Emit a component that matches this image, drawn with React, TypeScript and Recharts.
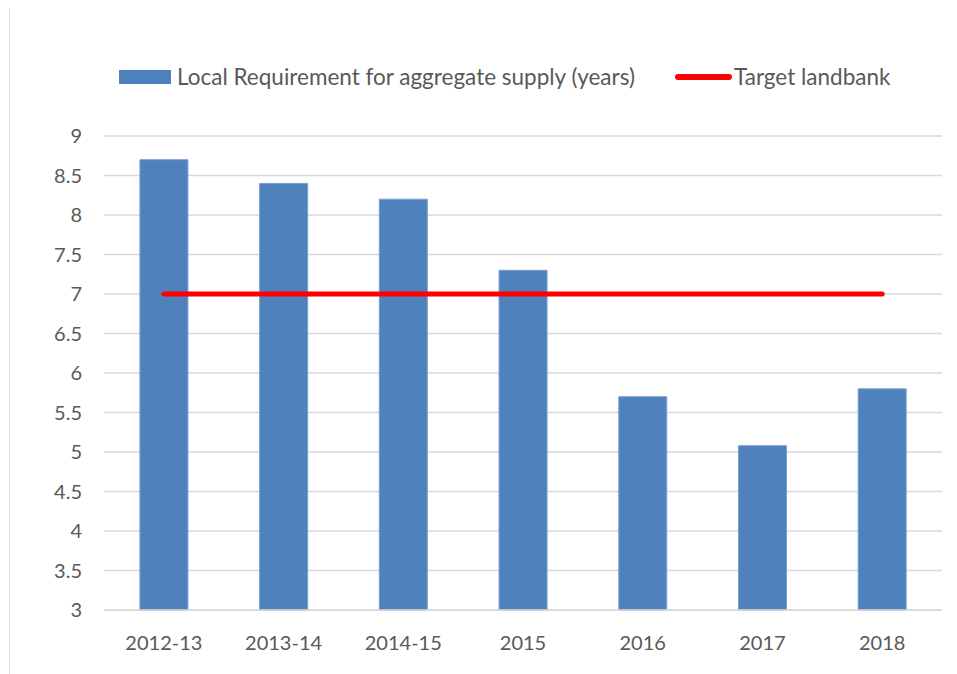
import { ComposedChart, Bar, Line, XAxis, YAxis, CartesianGrid } from 'recharts';

// categories and values
const years = ['2012-13', '2013-14', '2014-15', '2015', '2016', '2017', '2018'];
const requirement = [8.7, 8.4, 8.2, 7.3, 5.7, 5.08, 5.8];
const targetLandbank = [7, 7, 7, 7, 7, 7, 7];
const yTicks = [3, 3.5, 4, 4.5, 5, 5.5, 6, 6.5, 7, 7.5, 8, 8.5, 9];

const BAR_NAME = 'Local Requirement for aggregate supply (years)';
const LINE_NAME = 'Target landbank';

const data = years.map((y, i) => ({ year: y, requirement: requirement[i], target: targetLandbank[i] }));

const FONT = 'Lato, "Open Sans", sans-serif';
const TEXT = '#595959';

// legend drawn as html above the plot, like excel's top legend
function ChartLegend() {
    return (
        <div style={{ position: 'absolute', left: 0, top: 54, width: 940, height: 30, fontFamily: FONT, fontSize: 22.5, color: TEXT }}>
            <span style={{ position: 'absolute', left: 109, top: 8, width: 52, height: 14, background: '#4F81BD' }}></span>
            <span style={{ position: 'absolute', left: 167, top: 0, lineHeight: '30px', whiteSpace: 'nowrap' }}>{BAR_NAME}</span>
            <span style={{ position: 'absolute', left: 665, top: 12, width: 57, height: 6, borderRadius: 3, background: '#FF0000' }}></span>
            <span style={{ position: 'absolute', left: 724, top: 0, lineHeight: '30px', whiteSpace: 'nowrap' }}>{LINE_NAME}</span>
        </div>
    );
}

export default function App() {
    return (
        <div style={{ position: 'relative', width: 960, height: 680, marginLeft: 1, marginTop: -1, border: '1px solid #d9d9d9', background: '#fff', overflow: 'hidden', boxSizing: 'border-box' }}>
            <ChartLegend />
            <ComposedChart width={940} height={660} data={data} margin={{ top: 128, right: 8, bottom: 18, left: 0 }} barCategoryGap="30%">
                <CartesianGrid vertical={false} stroke="#d9d9d9" strokeWidth={1.5} />
                <XAxis dataKey="year" axisLine={{ stroke: '#d9d9d9', strokeWidth: 1.5 }} tickLine={false} tickMargin={20} height={40}
                    tick={{ fontSize: 20, fill: TEXT, fontFamily: FONT }} />
                <YAxis domain={[3, 9]} ticks={yTicks} width={94} axisLine={false} tickLine={false} tickMargin={16}
                    tick={{ fontSize: 20, fill: TEXT, fontFamily: FONT }} interval={0} />
                <Bar dataKey="requirement" name={BAR_NAME} fill="#4F81BD" stroke="#7a9fd0" strokeWidth={1} isAnimationActive={false} />
                <Line dataKey="target" name={LINE_NAME} stroke="#FF0000" strokeWidth={5} strokeLinecap="round" dot={false} activeDot={false} isAnimationActive={false} />
            </ComposedChart>
        </div>
    );
}
